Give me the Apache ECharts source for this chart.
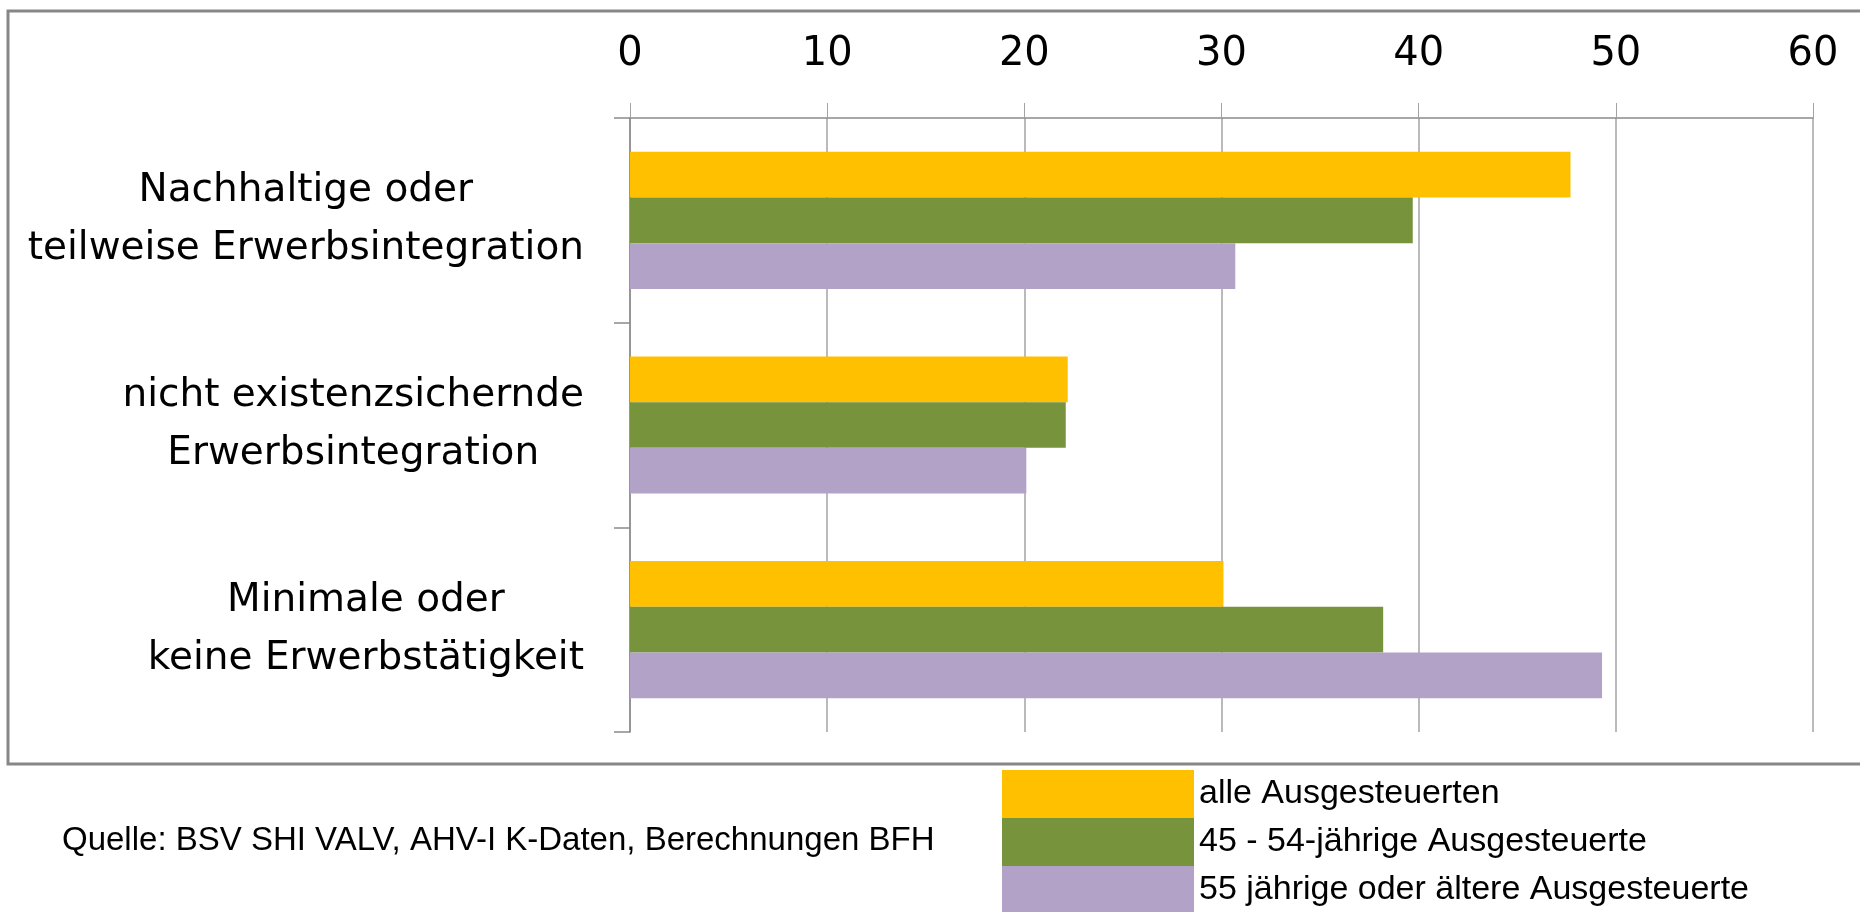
<!DOCTYPE html>
<html>
<head>
<meta charset="utf-8">
<script src="https://cdn.jsdelivr.net/npm/echarts@6/dist/echarts.min.js"></script>
<style>
html,body{margin:0;padding:0;background:#fff;}
#chart{width:1860px;height:912px;}
</style>
</head>
<body>
<div id="chart"></div>
<script>
const categories = [
  'Nachhaltige oder\nteilweise Erwerbsintegration',
  'nicht existenzsichernde\nErwerbsintegration',
  'Minimale oder\nkeine Erwerbstätigkeit'
];
const seriesNames = [
  'alle Ausgesteuerten',
  '45 - 54-jährige Ausgesteuerte',
  '55 jährige oder ältere Ausgesteuerte'
];
const allValues = [47.7, 22.2, 30.1];
const age45to54Values = [39.7, 22.1, 38.2];
const age55plusValues = [30.7, 20.1, 49.3];
const seriesColors = ['#FFC000', '#77933C', '#B3A2C7'];
const sourceText = 'Quelle: BSV SHI VALV, AHV-I K-Daten, Berechnungen BFH';

const chart = echarts.init(document.getElementById('chart'));
const labelFont = 'DejaVu Sans';
const smallFont = 'Liberation Sans';
const axisGray = '#8a8a8a';
const gridGray = '#a3a3a3';

const valueSets = [allValues, age45to54Values, age55plusValues];

chart.setOption({
  backgroundColor: '#ffffff',
  animation: false,
  title: {
    text: sourceText,
    left: 62,
    top: 824,
    padding: 0,
    textStyle: { fontFamily: smallFont, fontSize: 33, fontWeight: 'normal', color: '#000' }
  },
  legend: {
    orient: 'vertical',
    left: 1002,
    top: 770,
    height: 300,
    padding: 0,
    itemGap: 0,
    itemWidth: 192,
    itemHeight: 48,
    icon: 'rect',
    data: seriesNames,
    textStyle: { fontFamily: smallFont, fontSize: 34, color: '#000' }
  },
  graphic: [{
    type: 'rect',
    silent: true,
    z: -1,
    shape: { x: 8, y: 11, width: 1880, height: 753 },
    style: { fill: 'none', stroke: '#878787', lineWidth: 3 }
  }],
  grid: { left: 630, right: 47, top: 118, bottom: 180 },
  xAxis: {
    type: 'value',
    position: 'top',
    min: 0,
    max: 60,
    interval: 10,
    axisLine: { show: true, lineStyle: { color: axisGray, width: 1.5 } },
    axisTick: { show: true, inside: false, length: 15, lineStyle: { color: gridGray } },
    splitLine: { show: true, lineStyle: { color: gridGray, width: 1.5 } },
    axisLabel: { margin: 43, fontFamily: labelFont, fontSize: 40, color: '#000' }
  },
  yAxis: {
    type: 'category',
    inverse: true,
    data: categories,
    axisLine: { show: true, lineStyle: { color: axisGray, width: 1.5 } },
    axisTick: { show: true, length: 16, lineStyle: { color: axisGray, width: 1.5 } },
    axisLabel: {
      margin: 46,
      align: 'right',
      color: '#000',
      formatter: function (v) {
        return v.split('\n').map(function (l) { return '{c|' + l + '}'; }).join('\n');
      },
      rich: {
        c: { align: 'center', fontFamily: labelFont, fontSize: 39, lineHeight: 58, color: '#000' }
      }
    }
  },
  series: seriesNames.map(function (name, i) {
    return {
      name: name,
      type: 'bar',
      data: valueSets[i],
      barGap: '0%',
      barCategoryGap: '33%',
      itemStyle: { color: seriesColors[i] }
    };
  })
});
</script>
</body>
</html>
